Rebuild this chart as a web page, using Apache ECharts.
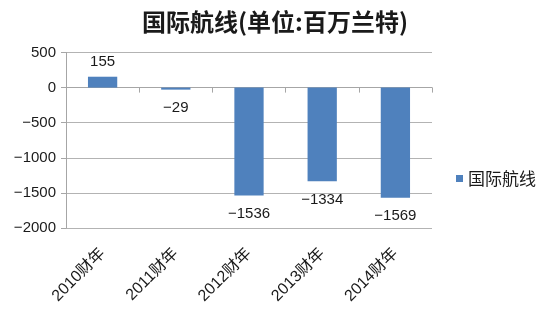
<!DOCTYPE html>
<html>
<head>
<meta charset="utf-8">
<script src="https://cdn.jsdelivr.net/npm/echarts@6/dist/echarts.min.js"></script>
<style>
html,body{margin:0;padding:0;background:#fff;}
#chart{width:550px;height:311px;}
</style>
</head>
<body>
<div id="chart"></div>
<script>
const titleText = '国际航线(单位:百万兰特)';
const seriesName = '国际航线';
const categories = ['2010财年', '2011财年', '2012财年', '2013财年', '2014财年'];
const values = [155, -29, -1536, -1334, -1569];
const yMin = -2000, yMax = 500, yStep = 500;

const FONT = '"Liberation Sans", "Noto Sans CJK SC", sans-serif';
const minus = v => String(v).replace('-', '\u2212');

const chart = echarts.init(document.getElementById('chart'), null, {renderer: 'canvas'});
chart.setOption({
  animation: false,
  backgroundColor: '#ffffff',
  title: {
    text: titleText,
    left: 'center',
    top: 5,
    textStyle: {fontFamily: '"Noto Sans CJK SC", sans-serif', fontWeight: 'bold', fontSize: 24, color: '#1a1a1a'}
  },
  legend: {
    left: 451,
    top: 165,
    icon: 'rect',
    itemWidth: 7,
    itemHeight: 7,
    textStyle: {fontFamily: '"Noto Sans CJK SC", sans-serif', fontSize: 17, color: '#1a1a1a', padding: [0, 0, 0, 0]},
    data: [seriesName]
  },
  grid: {left: 66, right: 118, top: 52.5, bottom: 83},
  xAxis: [{
    type: 'category',
    data: categories,
    position: 'bottom',
    axisLine: {onZero: true, lineStyle: {color: '#a6a6a6', width: 1}},
    axisTick: {show: true, length: 5, lineStyle: {color: '#a6a6a6'}},
    axisLabel: {show: false}
  }, {
    type: 'category',
    data: categories,
    position: 'bottom',
    axisLine: {show: false, onZero: false},
    axisTick: {show: false},
    axisLabel: {rotate: 45, margin: 23, fontFamily: FONT, fontSize: 16, color: '#1a1a1a'}
  }],
  yAxis: {
    type: 'value',
    min: yMin,
    max: yMax,
    interval: yStep,
    axisLine: {show: true, lineStyle: {color: '#a6a6a6'}},
    axisTick: {show: true, length: 5, lineStyle: {color: '#a6a6a6'}},
    splitLine: {lineStyle: {color: '#b3b3b3', width: 1}},
    axisLabel: {fontFamily: FONT, fontSize: 15, color: '#1a1a1a', margin: 10, formatter: minus}
  },
  series: [{
    name: seriesName,
    type: 'bar',
    xAxisIndex: 0,
    barWidth: '40%',
    itemStyle: {color: '#4f81bd'},
    label: {
      show: true,
      fontFamily: FONT,
      fontSize: 15,
      color: '#1a1a1a',
      formatter: p => minus(p.value)
    },
    data: values.map(v => ({
      value: v,
      label: {position: v >= 0 ? 'top' : 'bottom', distance: v >= 0 ? 7 : 11}
    }))
  }]
});
</script>
</body>
</html>
